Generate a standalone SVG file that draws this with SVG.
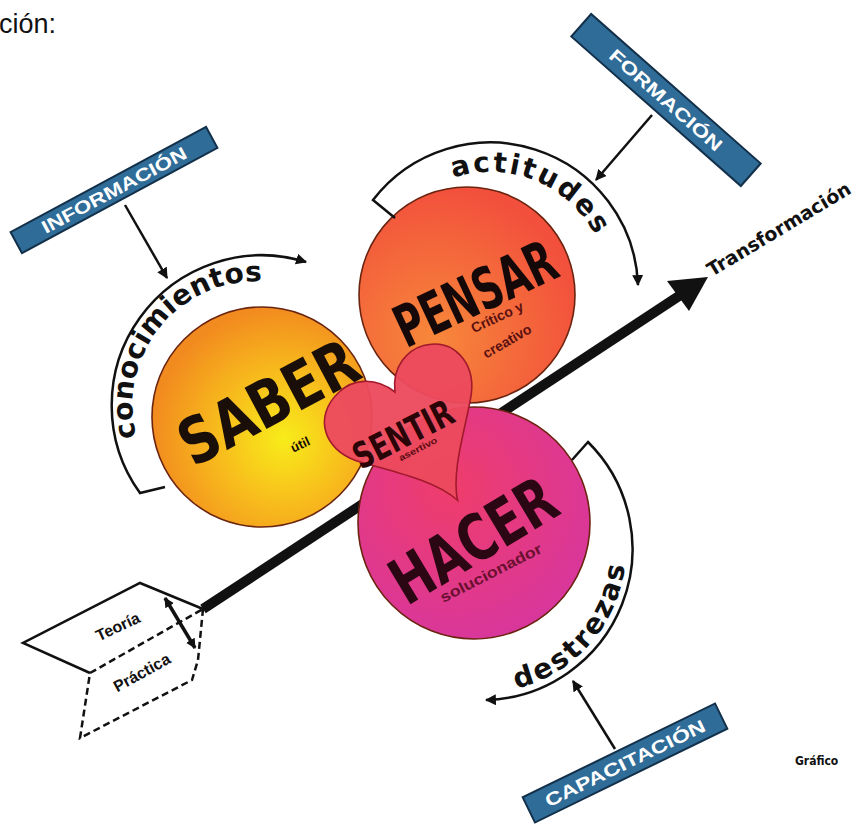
<svg xmlns="http://www.w3.org/2000/svg" width="857" height="827" viewBox="0 0 857 827">
<defs>
<style>
.box{fill:#2f6c98;stroke:#13304a;stroke-width:2}
.boxt{font-family:"Liberation Sans",Arial,sans-serif;font-size:18px;fill:#ffffff;text-anchor:middle;font-weight:bold}
.big{font-family:"DejaVu Sans Condensed","Liberation Sans Narrow",sans-serif;font-weight:bold;text-anchor:middle}
.sm{font-family:"Liberation Sans",Arial,sans-serif;font-weight:bold;text-anchor:middle}
.arcl{font-family:"DejaVu Sans","Liberation Sans",sans-serif;font-weight:bold;font-size:28px;fill:#111}
.ln{fill:none;stroke:#111;stroke-width:2.5}
.circ{stroke:#6b2410;stroke-width:1.6}
</style>
<marker id="ah" viewBox="0 0 10 10" refX="9" refY="5" markerWidth="11" markerHeight="11" markerUnits="userSpaceOnUse" orient="auto">
<path d="M0,0 L10,5 L0,10 z" fill="#111"/>
</marker>
<marker id="ah2" viewBox="0 0 10 10" refX="9" refY="5" markerWidth="10" markerHeight="10" markerUnits="userSpaceOnUse" orient="auto-start-reverse">
<path d="M0,0 L10,5 L0,10 z" fill="#111"/>
</marker>
<radialGradient id="gSaber" cx="0.6" cy="0.6" r="0.6">
<stop offset="0" stop-color="#f8ec1a"/>
<stop offset="0.45" stop-color="#f8c11c"/>
<stop offset="1" stop-color="#f28b1f"/>
</radialGradient>
<radialGradient id="gPensar" cx="0.35" cy="0.7" r="0.7">
<stop offset="0" stop-color="#f7883a"/>
<stop offset="1" stop-color="#f2503c"/>
</radialGradient>
<radialGradient id="gHacer" cx="0.4" cy="0.35" r="0.7">
<stop offset="0" stop-color="#ef3d6a"/>
<stop offset="1" stop-color="#d8369e"/>
</radialGradient>
<path id="pCon" d="M136.5,437.0 A124,124 0 0 1 288.8,285.7"/>
<path id="pAct" d="M453.2,177.8 A119,119 0 0 1 598.8,242.6"/>
<path id="pDes" d="M516.6,688.7 A144,144 0 0 0 625.6,559.0"/>
</defs>

<text x="-1" y="33" font-family="Liberation Sans, Arial, sans-serif" font-size="27" fill="#111">ción:</text>

<g id="main-arrow">
<line x1="203" y1="609" x2="682" y2="294" stroke="#111" stroke-width="10"/>
<polygon points="708,277 667,281 689,311" fill="#111"/>
</g>

<g id="saber">
<circle cx="262" cy="417" r="110" fill="url(#gSaber)" class="circ"/>
<text class="big" font-size="64" transform="translate(268,402) rotate(-28)" y="23" textLength="194" lengthAdjust="spacingAndGlyphs" fill="#1a0f08">SABER</text>
<text class="sm" font-size="13" transform="translate(300,444) rotate(-25)" y="5" fill="#1a0f08">útil</text>
</g>

<g id="hacer">
<circle cx="474" cy="523" r="116" fill="url(#gHacer)" class="circ"/>
<text class="big" font-size="64" transform="translate(473,540) rotate(-31)" y="23" textLength="182" lengthAdjust="spacingAndGlyphs" fill="#2a0712">HACER</text>
<text class="sm" font-size="15" transform="translate(491,573) rotate(-27)" y="5" textLength="112" lengthAdjust="spacingAndGlyphs" fill="#6b1030">solucionador</text>
</g>

<g id="pensar">
<circle cx="467" cy="295" r="108" fill="url(#gPensar)" class="circ"/>
<text class="big" font-size="58" transform="translate(475,293) rotate(-25)" y="21" textLength="172" lengthAdjust="spacingAndGlyphs" fill="#150808">PENSAR</text>
<text class="sm" font-size="14" transform="translate(497,317) rotate(-25)" y="5" fill="#5a1010">Crítico y</text>
<text class="sm" font-size="14" transform="translate(507,341) rotate(-30)" y="5" fill="#5a1010">creativo</text>
</g>

<g id="sentir">
<path transform="translate(395,392) rotate(-30)" d="M0,0 C-10,-25 -32,-32 -48,-28 C-84,-20 -90,15 -68,40 C-45,65 -10,95 0,125 C10,95 45,65 65,40 C84,15 78,-18 48,-26 C32,-30 10,-24 0,0 Z" fill="#ec4a5e" fill-opacity="0.96" stroke="#a21a2c" stroke-width="1.6"/>
<text class="big" font-size="36" transform="translate(403,434) rotate(-27)" y="13" textLength="108" lengthAdjust="spacingAndGlyphs" fill="#2a0508">SENTIR</text>
<text class="sm" font-size="9" transform="translate(418,449) rotate(-27)" y="3" textLength="42" lengthAdjust="spacingAndGlyphs" fill="#5a0a10">asertivo</text>
</g>

<g id="teoria-practica">
<path d="M203,609 L140,583 L23,643 L90,673" class="ln" stroke-width="1.6"/>
<path d="M90,673 L203,609 M203,609 L198,660 L192,680 L80,738 L90,673" class="ln" stroke-width="1.6" stroke-dasharray="7,4"/>
<line x1="165" y1="598" x2="195" y2="648" stroke="#111" stroke-width="3.5" marker-start="url(#ah2)" marker-end="url(#ah2)"/>
<text class="sm" font-size="16" transform="translate(118,627) rotate(-25)" y="5" fill="#111">Teoría</text>
<text class="sm" font-size="16" transform="translate(142,673) rotate(-29)" y="5" fill="#111">Práctica</text>
</g>

<g id="informacion">
<g transform="translate(114,190) rotate(-28.3)">
<rect class="box" x="-111" y="-12" width="222" height="24"/>
<text class="boxt" y="6.5" textLength="162" lengthAdjust="spacingAndGlyphs">INFORMACIÓN</text>
</g>
</g>

<g id="formacion">
<g transform="translate(666,100) rotate(41.4)">
<rect class="box" x="-113" y="-15" width="226" height="30"/>
<text class="boxt" y="6.5" textLength="144" lengthAdjust="spacingAndGlyphs">FORMACIÓN</text>
</g>
</g>

<g id="capacitacion">
<g transform="translate(625,763) rotate(-26)">
<rect class="box" x="-107" y="-14" width="214" height="28"/>
<text class="boxt" y="6.5" textLength="176" lengthAdjust="spacingAndGlyphs">CAPACITACIÓN</text>
</g>
</g>

<g id="connectors">
<path class="ln" d="M165,487 L140,493 A150,150 0 0 1 306,262" marker-end="url(#ah)"/>
<path class="ln" d="M395,218 L373,200 A148,148 0 0 1 638,285" marker-end="url(#ah)"/>
<path class="ln" d="M572,460 L588,442 A151,151 0 0 1 486,700" marker-end="url(#ah)"/>
<line class="ln" x1="125" y1="205" x2="167" y2="278" stroke-width="2" marker-end="url(#ah)"/>
<line class="ln" x1="652" y1="115" x2="596" y2="180" stroke-width="2" marker-end="url(#ah)"/>
<line class="ln" x1="615" y1="749" x2="573" y2="681" stroke-width="2" marker-end="url(#ah)"/>
</g>

<g id="arc-labels">
<text class="arcl"><textPath href="#pCon" textLength="232" lengthAdjust="spacing">conocimientos</textPath></text>
<text class="arcl" font-size="32"><textPath href="#pAct" textLength="166" lengthAdjust="spacing">actitudes</textPath></text>
<text class="arcl" font-size="31"><textPath href="#pDes" textLength="174" lengthAdjust="spacing">destrezas</textPath></text>
</g>

<text class="big" font-size="19" transform="translate(712,277) rotate(-31)" style="text-anchor:start" textLength="164" lengthAdjust="spacingAndGlyphs" fill="#111">Transformación</text>
<text x="795" y="765" font-family="DejaVu Sans Condensed, sans-serif" font-weight="bold" font-size="12" fill="#111">Gráfico</text>
</svg>
